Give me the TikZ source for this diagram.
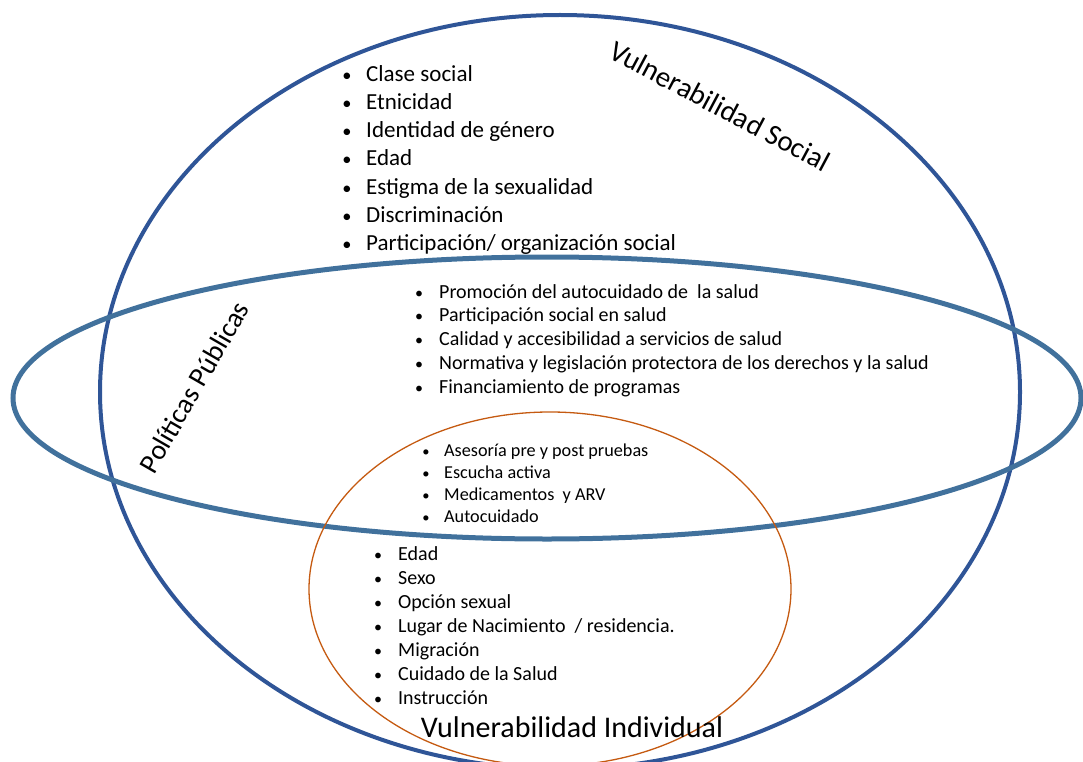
\documentclass[tikz,border=0pt]{standalone}
\usepackage{fontspec}
\setmainfont{Carlito}
\usetikzlibrary{positioning}

\definecolor{socialblue}{HTML}{2F5597}
\definecolor{policyblue}{HTML}{41719C}
\definecolor{indivorange}{HTML}{C55A11}

\tikzset{
  bullet/.style={anchor=base, inner sep=0pt, scale=0.8},
  itemtext/.style={anchor=base west, inner sep=0pt},
  title/.style={inner sep=0pt, font=\fontsize{#1}{#1}\selectfont}
}

\begin{document}
\begin{tikzpicture}[x=1pt,y=-1pt]
  \useasboundingbox (0,0) rectangle (1083,762);
  % the three areas of vulnerability
  \draw[socialblue, line width=4pt] (560,392) ellipse [x radius=460, y radius=377];
  \draw[policyblue, line width=5pt] (547,398) ellipse [x radius=534, y radius=141];
  \draw[indivorange, line width=1.3pt] (550,589) ellipse [x radius=241, y radius=177];

  % titles
  \node[title=29, rotate=-28] (social) at (720,106) {Vulnerabilidad Social};
  \node[title=28, rotate=60] (policy) at (194,387) {Políticas Públicas};
  \node[title=30] (indiv) at (572,727) {Vulnerabilidad Individual};

  % social factors
  \foreach \txt [count=\i from 0] in {Clase social, Etnicidad, Identidad de género, Edad,
      Estigma de la sexualidad, Discriminación, Participación/ organización social} {
    \node[bullet, font=\fontsize{23}{23}\selectfont] (sb\i) at (347,82+28*\i) {\textbullet};
    \node[itemtext, font=\fontsize{23}{23}\selectfont] (st\i) at (366,82+28*\i) {\txt};
  }

  % public policies
  \foreach \txt [count=\i from 0] in {Promoción del autocuidado de\ \ la salud,
      Participación social en salud, Calidad y accesibilidad a servicios de salud,
      Normativa y legislación protectora de los derechos y la salud,
      Financiamiento de programas} {
    \node[bullet, font=\fontsize{20}{20}\selectfont] (pb\i) at (419,298+23.8*\i) {\textbullet};
    \node[itemtext, font=\fontsize{20}{20}\selectfont] (pt\i) at (439,298+23.8*\i) {\txt};
  }

  % services, overlap of policies and individual
  \foreach \txt [count=\i from 0] in {Asesoría pre y post pruebas, Escucha activa,
      Medicamentos\ \ y ARV, Autocuidado} {
    \node[bullet, font=\fontsize{18.2}{18.2}\selectfont] (ob\i) at (426,456.5+22*\i) {\textbullet};
    \node[itemtext, font=\fontsize{18.2}{18.2}\selectfont] (ot\i) at (444,456.5+22*\i) {\txt};
  }

  % individual factors
  \foreach \txt [count=\i from 0] in {Edad, Sexo, Opción sexual,
      Lugar de Nacimiento\ \ / residencia., Migración, Cuidado de la Salud, Instrucción} {
    \node[bullet, font=\fontsize{20}{20}\selectfont] (ib\i) at (378,560+24*\i) {\textbullet};
    \node[itemtext, font=\fontsize{20}{20}\selectfont] (it\i) at (398,560+24*\i) {\txt};
  }
\end{tikzpicture}
\end{document}
